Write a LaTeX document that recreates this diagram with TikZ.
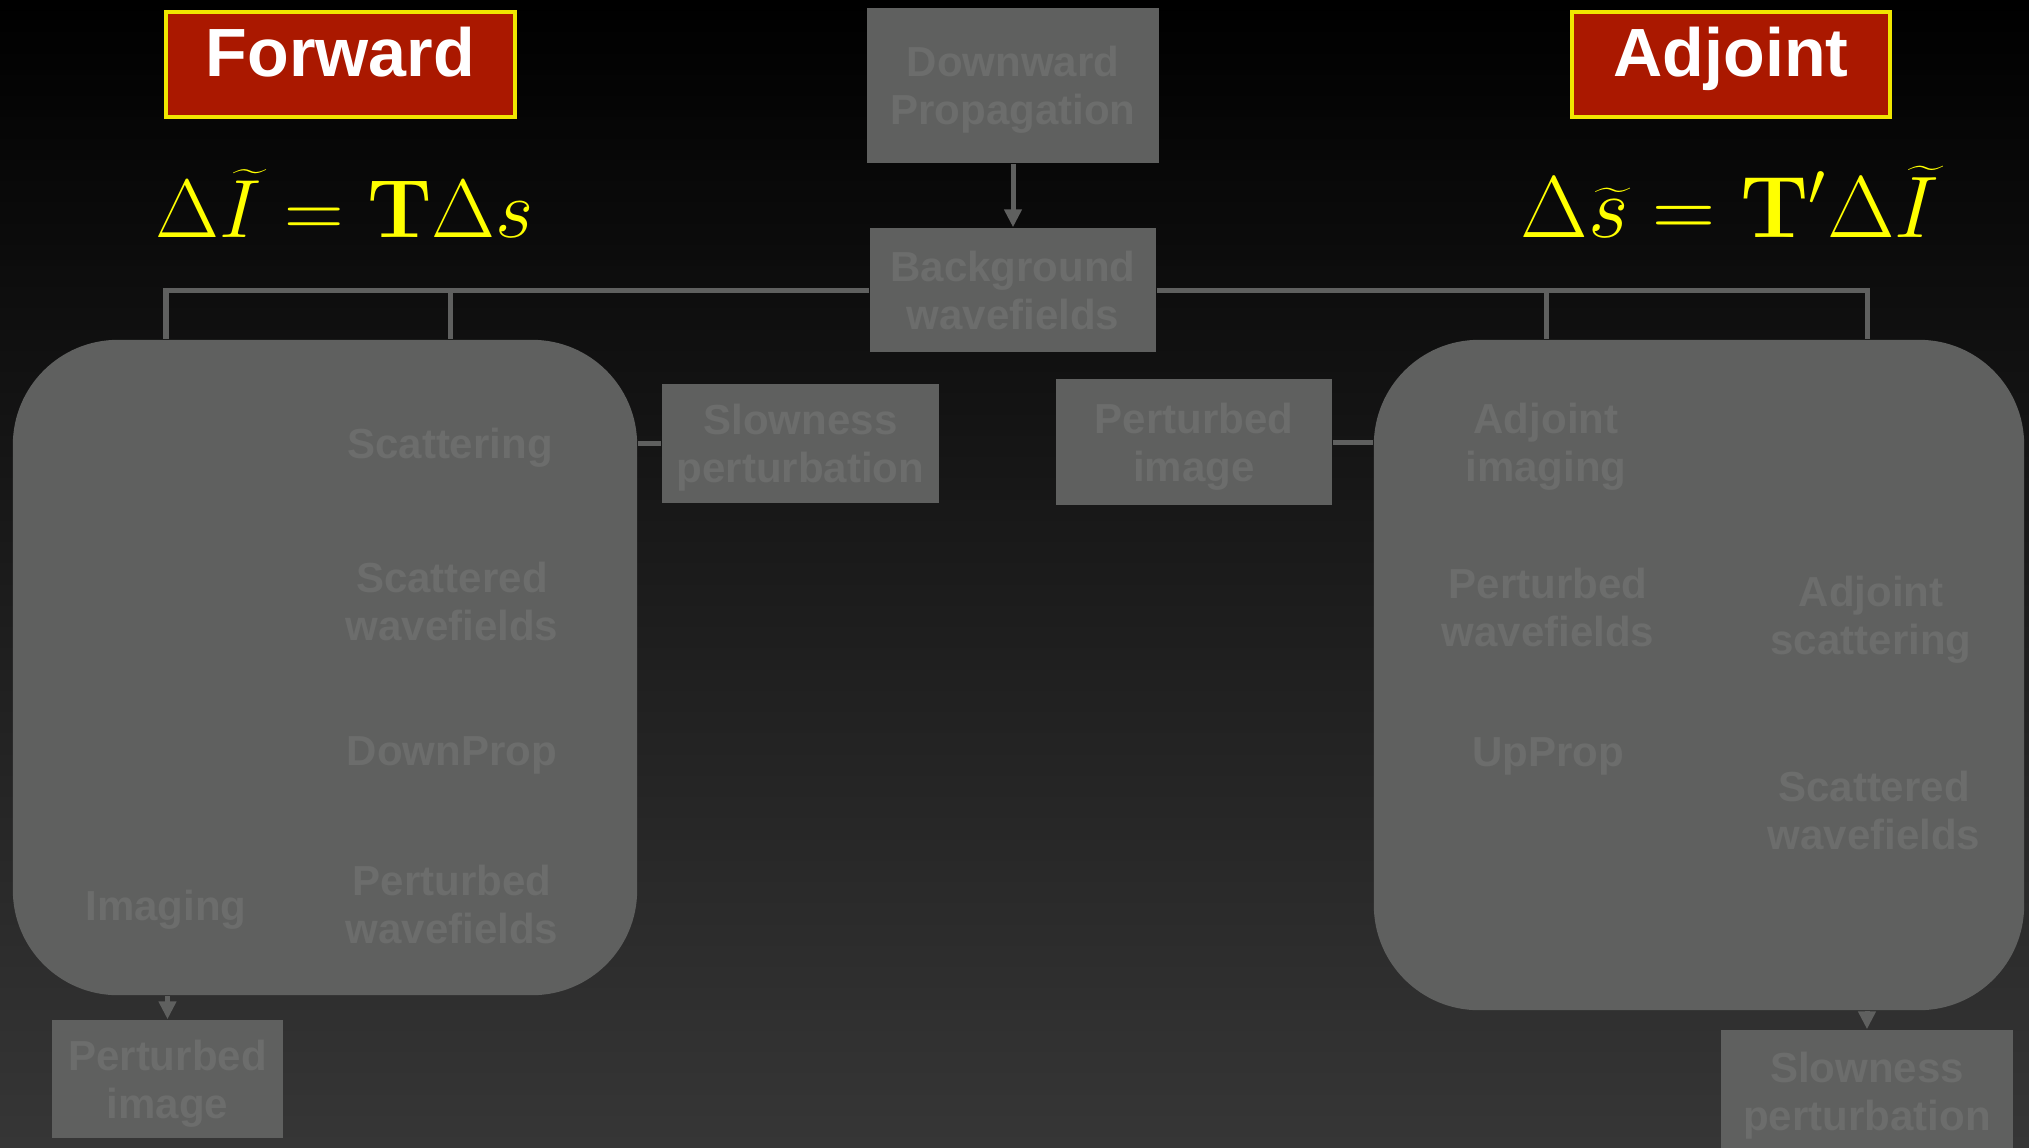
\documentclass[tikz,border=0pt]{standalone}
\usepackage[no-math]{fontspec}
\setmainfont{Liberation Sans}
\usetikzlibrary{arrows.meta}

\definecolor{boxgray}{RGB}{95,96,95}
\definecolor{labelgray}{RGB}{108,109,108}
\definecolor{titlered}{RGB}{170,24,0}
\definecolor{titleyellow}{RGB}{240,230,0}
\definecolor{eqyellow}{RGB}{255,255,0}
\definecolor{bottomgray}{RGB}{54,54,54}

\newcommand{\boxfont}{\fontsize{11.95}{13.66}\selectfont\bfseries}
\newcommand{\titlefont}{\fontsize{19.4}{22}\selectfont\bfseries}
\newcommand{\eqfont}{\fontsize{23}{28}\selectfont}

\begin{document}
\begin{tikzpicture}[x=0.01cm,y=-0.01cm,
    procbox/.style={fill=boxgray,text=labelgray,font=\boxfont,align=center,inner sep=0pt,text depth=0pt},
    steplabel/.style={text=labelgray,font=\boxfont,align=center,inner sep=0pt,text depth=0pt},
    groupbox/.style={fill=boxgray,rounded corners=1.05cm,inner sep=0pt},
    titlebox/.style={fill=titlered,draw=titleyellow,line width=0.035cm,text=white,font=\titlefont,
        inner sep=0pt,text height=0.65cm,text depth=0.40cm},
    eqn/.style={text=eqyellow,font=\eqfont,inner sep=0pt},
    link/.style={draw=boxgray,line width=0.05cm},
    flow/.style={link,-{Triangle[width=0.17cm,length=0.18cm]}}]
    % background
    \useasboundingbox (0,0) rectangle (2029,1147);
    \shade[top color=black,bottom color=bottomgray] (0,0) rectangle (2029,1147);
    % titles
    \node[titlebox,minimum width=3.49cm,anchor=north] (fwd) at (340.5,10) {Forward};
    \node[titlebox,minimum width=3.18cm,anchor=north] (adj) at (1731,10) {Adjoint};
    \node[eqn,anchor=base west] (fwdeq) at (155,237) {\scalebox{0.945}{$\Delta\widetilde{I} = \mathbf{T}\Delta s$}};
    \node[eqn,anchor=base west] (adjeq) at (1520,237) {$\Delta\widetilde{s} = \mathbf{T}'\Delta\widetilde{I}$};
    % boxes
    \node[procbox,minimum width=2.92cm,minimum height=1.55cm] (dprop) at (1013,85.5) {Downward\\Propagation};
    \node[procbox,minimum width=2.86cm,minimum height=1.24cm] (bgwave) at (1013,290) {Background\\wavefields};
    \node[procbox,minimum width=2.77cm,minimum height=1.18cm] (slow1) at (800.5,443.5) {Slowness\\perturbation};
    \node[procbox,minimum width=2.76cm,minimum height=1.26cm] (pimg1) at (1194,442) {Perturbed\\image};
    \node[groupbox,minimum width=6.24cm,minimum height=6.55cm] (fwdbox) at (325,667.5) {};
    \node[groupbox,minimum width=6.50cm,minimum height=6.70cm] (adjbox) at (1699,675) {};
    \node[procbox,minimum width=2.31cm,minimum height=1.18cm] (pimg2) at (167.5,1079) {Perturbed\\image};
    \node[procbox,minimum width=2.92cm,minimum height=1.22cm] (slow2) at (1867,1091) {Slowness\\perturbation};
    % forward steps
    \node[steplabel] (scat) at (450,443) {Scattering};
    \node[steplabel] (scwave) at (452,601) {Scattered\\wavefields};
    \node[steplabel] (downprop) at (452,751) {DownProp};
    \node[steplabel] (pwave) at (452,904) {Perturbed\\wavefields};
    \node[steplabel] (imag) at (166,905) {Imaging};
    % adjoint steps
    \node[steplabel] (adjimg) at (1546,442) {Adjoint\\imaging};
    \node[steplabel] (pwave2) at (1548,607) {Perturbed\\wavefields};
    \node[steplabel] (upprop) at (1548,752) {UpProp};
    \node[steplabel] (adjscat) at (1871,615) {Adjoint\\scattering};
    \node[steplabel] (scwave2) at (1874,810) {Scattered\\wavefields};
    % connectors
    \draw[flow] (dprop) -- (bgwave);
    \draw[link] (bgwave.west) -| (fwdbox.north -| imag);
    \draw[link] (scat |- bgwave.west) -- (scat |- fwdbox.north);
    \draw[link] (bgwave.east) -| (slow2 |- adjbox.north);
    \draw[link] (adjimg |- bgwave.east) -- (adjimg |- adjbox.north);
    \draw[link] (fwdbox.east |- slow1) -- (slow1.west);
    \draw[link] (pimg1.east) -- (pimg1 -| adjbox.west);
    \draw[flow] (fwdbox.south -| pimg2) -- (pimg2.north);
    \draw[flow] (adjbox.south -| slow2) -- (slow2.north);
\end{tikzpicture}
\end{document}
